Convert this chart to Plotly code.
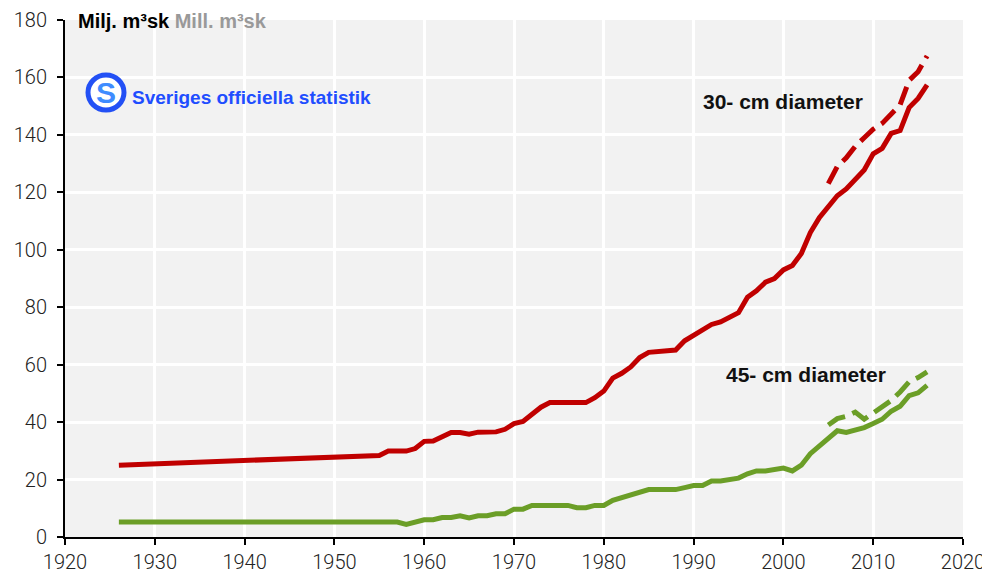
import plotly.graph_objects as go

# ---- data ----
years_30 = [1926, 1955, 1956, 1957, 1958, 1959, 1960, 1961, 1962, 1963, 1964, 1965, 1966, 1967, 1968, 1969,
            1970, 1971, 1972, 1973, 1974, 1975, 1976, 1977, 1978, 1979, 1980, 1981, 1982, 1983, 1984, 1985,
            1986, 1987, 1988, 1989, 1990, 1991, 1992, 1993, 1994, 1995, 1996, 1997, 1998, 1999, 2000, 2001,
            2002, 2003, 2004, 2005, 2006, 2007, 2008, 2009, 2010, 2011, 2012, 2013, 2014, 2015, 2016]
vol_30 = [25.0, 28.4, 29.9, 29.9, 29.9, 30.8, 33.3, 33.4, 34.9, 36.4, 36.4, 35.8, 36.5, 36.5, 36.6, 37.5,
          39.5, 40.2, 42.5, 45.2, 46.8, 46.8, 46.8, 46.8, 46.8, 48.5, 50.8, 55.3, 57.0, 59.2, 62.5, 64.3,
          64.5, 65.0, 65.1, 68.3, 70.3, 71.8, 74.0, 74.9, 76.3, 78.1, 83.5, 85.7, 88.7, 90.0, 93.0, 94.5,
          98.7, 106.0, 111.2, 115.3, 118.8, 121.2, 124.8, 127.8, 133.4, 135.3, 140.5, 141.5, 149.5, 152.7, 157.4]

years_30_est = [2005, 2006, 2007, 2008, 2009, 2010, 2011, 2012, 2013, 2014, 2015, 2016]
vol_30_est = [123.0, 129.0, 132.0, 136.0, 139.0, 142.0, 144.0, 147.0, 150.5, 159.0, 162.0, 167.5]

years_45 = [1926, 1957, 1958, 1959, 1960, 1961, 1962, 1963, 1964, 1965, 1966, 1967, 1968, 1969, 1970, 1971,
            1972, 1973, 1974, 1975, 1976, 1977, 1978, 1979, 1980, 1981, 1982, 1983, 1984, 1985, 1986, 1987,
            1988, 1989, 1990, 1991, 1992, 1993, 1994, 1995, 1996, 1997, 1998, 1999, 2000, 2001, 2002, 2003,
            2004, 2005, 2006, 2007, 2008, 2009, 2010, 2011, 2012, 2013, 2014, 2015, 2016]
vol_45 = [5.2, 5.2, 4.4, 5.2, 6.0, 6.0, 6.8, 6.8, 7.4, 6.6, 7.4, 7.4, 8.1, 8.1, 9.7, 9.7,
          11.0, 11.0, 11.0, 11.0, 11.0, 10.2, 10.2, 11.0, 11.0, 12.8, 13.7, 14.9, 15.8, 16.5, 16.5, 16.5,
          16.5, 17.2, 17.9, 17.9, 19.5, 19.5, 20.0, 20.5, 22.0, 23.0, 23.0, 23.5, 24.0, 23.0, 25.0, 29.0,
          31.6, 34.3, 37.0, 36.4, 37.2, 38.1, 39.5, 41.0, 43.8, 45.5, 49.2, 50.2, 52.8]

years_45_est = [2005, 2006, 2007, 2008, 2009, 2010, 2011, 2012, 2013, 2014, 2015, 2016]
vol_45_est = [39.0, 41.2, 42.0, 43.5, 41.0, 43.0, 45.5, 47.5, 50.5, 54.0, 55.5, 57.5]

x_ticks = [1920, 1930, 1940, 1950, 1960, 1970, 1980, 1990, 2000, 2010, 2020]
y_ticks = [0, 20, 40, 60, 80, 100, 120, 140, 160, 180]

label_30 = "30- cm diameter"
label_45 = "45- cm diameter"
unit_sv = "Milj. m³sk"
unit_en = "Mill. m³sk"
logo_text = "Sveriges officiella statistik"

RED = "#C00000"
GREEN = "#6B9E27"

fig = go.Figure()
fig.add_trace(go.Scatter(x=years_30, y=vol_30, mode="lines", line=dict(color=RED, width=5), showlegend=False))
fig.add_trace(go.Scatter(x=years_30_est, y=vol_30_est, mode="lines",
                         line=dict(color=RED, width=5, dash="19px,8px"), showlegend=False))
fig.add_trace(go.Scatter(x=years_45, y=vol_45, mode="lines", line=dict(color=GREEN, width=5), showlegend=False))
fig.add_trace(go.Scatter(x=years_45_est, y=vol_45_est, mode="lines",
                         line=dict(color=GREEN, width=5, dash="19px,8px"), showlegend=False))

# page has an 8px body margin; lay out in page pixel terms
OFF = 8
PL, PR, PT, PB = 65, 963, 20, 537   # plot area in page pixels
W, H = 990 - OFF, 571 - OFF
L, T = PL - OFF, PT - OFF
R = W - (PR - OFF)
B = H - (PB - OFF)
pw, ph = PR - PL, PB - PT


def px(xp):
    return (xp - PL) / pw


def py(yp):
    return (PB - yp) / ph


axis_font = dict(family="Roboto, Liberation Sans, Arial, sans-serif", size=20, color="#222", weight=300)

fig.update_layout(
    width=W, height=H,
    margin=dict(l=L, r=R, t=T, b=B),
    paper_bgcolor="white",
    plot_bgcolor="#F2F2F2",
    xaxis=dict(range=[1920, 2020], tickvals=x_ticks, ticktext=[str(v) for v in x_ticks],
               showgrid=True, gridcolor="white", gridwidth=3, zeroline=False, automargin=False,
               showline=True, linecolor="black", linewidth=2, ticks="outside", ticklen=6,
               tickcolor="black", tickwidth=2, tickfont=axis_font, ticklabelstandoff=0),
    yaxis=dict(range=[0, 180], tickvals=y_ticks, ticktext=[str(v) for v in y_ticks],
               showgrid=True, gridcolor="white", gridwidth=3, zeroline=False, automargin=False,
               showline=True, linecolor="black", linewidth=2, ticks="outside", ticklen=6,
               tickcolor="black", tickwidth=2, tickfont=axis_font, ticklabelstandoff=6),
    font=dict(family="Liberation Sans, Arial, sans-serif"),
)

bold_font = "Liberation Sans, Arial, sans-serif"

# unit title
fig.add_annotation(xref="paper", yref="paper", x=px(76), y=py(21), xanchor="left", yanchor="middle",
                   text=f"<b>{unit_sv}</b> <b><span style='color:#999999'>{unit_en}</span></b>",
                   showarrow=False, font=dict(size=20, color="black", family=bold_font))

# labels
fig.add_annotation(x=2000, y=151.5, text=f"<b>{label_30}</b>", showarrow=False, xanchor="center", yanchor="middle",
                   font=dict(size=21, color="#111", family=bold_font))
fig.add_annotation(x=2002.5, y=56.5, text=f"<b>{label_45}</b>", showarrow=False, xanchor="center", yanchor="middle",
                   font=dict(size=21, color="#111", family=bold_font))

# logo
fig.add_shape(type="circle", xref="paper", yref="paper",
              x0=px(88), x1=px(124), y0=py(110), y1=py(75),
              line=dict(color="#2350F5", width=5), fillcolor="white")
fig.add_annotation(xref="paper", yref="paper", x=px(106), y=py(92.5), xanchor="center", yanchor="middle",
                   text="<b>S</b>", showarrow=False,
                   font=dict(size=30, color="#3F8CFF", family=bold_font))
fig.add_annotation(xref="paper", yref="paper", x=px(130), y=py(97), xanchor="left", yanchor="middle",
                   text=f"<b>{logo_text}</b>", showarrow=False,
                   font=dict(size=19, color="#1F4EFF", family="Liberation Sans, Arial, sans-serif"))

fig.write_html("out.html")
